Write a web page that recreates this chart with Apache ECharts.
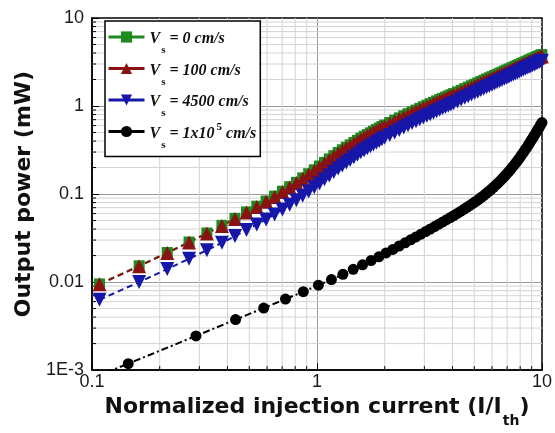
<!DOCTYPE html>
<html><head><meta charset="utf-8">
<script src="https://cdn.jsdelivr.net/npm/echarts@6/dist/echarts.min.js"></script>
<style>html,body{margin:0;padding:0;background:#fff}#c{width:555px;height:433px}</style>
</head><body><div id="c"></div>
<script>
// ---- data ----
const xMain = [0.108,0.162,0.216,0.27,0.324,0.378,0.432,0.486,0.54,0.594,0.648,0.702,0.756,0.81,0.864,0.918,0.972,1.026,1.08,1.134,1.188,1.242,1.296,1.35,1.404,1.458,1.512,1.566,1.62,1.674,1.728,1.782,1.836,1.89,1.944,1.998,
2.106,2.214,2.322,2.43,2.538,2.646,2.754,2.862,2.97,3.078,3.186,3.294,3.402,3.51,3.618,3.726,3.834,3.942,4.05,
4.212,4.374,4.536,4.698,4.86,5.022,5.184,5.346,5.508,5.67,5.832,5.994,6.156,6.318,6.48,6.642,6.804,6.966,7.128,7.29,7.452,7.614,7.776,7.938,8.1,8.262,8.424,8.586,8.748,8.91,9.072,9.234,9.396,9.558,9.72,9.882,9.99];

const vs0 = [0.00953,0.01532,0.02165,0.0285,0.0361,0.04413,0.05302,0.06266,0.07278,0.08332,0.09476,0.1077,0.1212,0.1359,0.1527,0.1702,0.1888,0.2083,0.229,0.2506,0.2731,0.2966,0.3185,0.34,0.3621,0.3847,0.4077,0.4311,0.453,0.4744,0.4959,0.5178,0.5398,0.5624,0.585,0.6079,
0.6491,0.6911,0.7335,0.7762,0.8187,0.859,0.8995,0.9402,0.9811,1.022,1.063,1.103,1.143,1.183,1.223,1.263,1.303,1.344,1.385,
1.448,1.511,1.574,1.637,1.702,1.766,1.83,1.895,1.96,2.026,2.091,2.157,2.223,2.289,2.356,2.423,2.49,2.557,2.624,2.691,2.759,2.827,2.895,2.963,3.031,3.1,3.168,3.237,3.306,3.376,3.445,3.515,3.584,3.655,3.725,3.794,3.841];

const vs100 = [0.00943,0.01517,0.02143,0.02822,0.03574,0.04347,0.05222,0.06172,0.07132,0.08165,0.09286,0.1055,0.1188,0.1332,0.1496,0.1668,0.1845,0.2031,0.2233,0.2443,0.2663,0.2892,0.3105,0.3305,0.352,0.3739,0.3963,0.419,0.4403,0.4602,0.481,0.5023,0.5236,0.5455,0.5675,0.5897,
0.6296,0.6704,0.71,0.7514,0.7925,0.8315,0.8707,0.9101,0.9477,0.9873,1.027,1.066,1.104,1.143,1.18,1.219,1.257,1.297,1.337,
1.39,1.451,1.511,1.572,1.634,1.695,1.757,1.819,1.882,1.945,2.007,2.071,2.134,2.197,2.262,2.326,2.39,2.455,2.519,2.583,2.649,2.714,2.779,2.844,2.91,2.976,3.041,3.108,3.174,3.241,3.307,3.374,3.441,3.509,3.576,3.642,3.687];

const vs4500 = [0.0063,0.01,0.01405,0.01841,0.02303,0.02793,0.0333,0.0391,0.0452,0.0515,0.0585,0.0667,0.0754,0.0848,0.0957,0.1069,0.1191,0.1321,0.1468,0.1621,0.1783,0.1955,0.2115,0.2278,0.2444,0.262,0.2793,0.2975,0.3148,0.3311,0.3481,0.365,0.3822,0.3999,0.4183,0.4353,
0.468,0.5017,0.5355,0.569,0.6067,0.64,0.6728,0.707,0.7388,0.7737,0.8068,0.8405,0.8733,0.9074,0.9405,0.9738,1.007,1.043,1.078,
1.129,1.183,1.239,1.292,1.348,1.402,1.457,1.516,1.572,1.629,1.687,1.745,1.803,1.861,1.92,1.98,2.037,2.097,2.157,2.217,2.279,2.341,2.403,2.465,2.528,2.592,2.655,2.713,2.774,2.839,2.904,2.97,3.028,3.096,3.163,3.229,3.269];

const xBlack = [0.1,0.1449,0.2898,0.4347,0.5796,0.7245,0.8694,1.0143,1.1592,1.3041,1.449,1.5939,1.7388,1.8837,2.0286,2.1735,2.3184,2.4633,2.6082,2.7531,2.898,3.0429,3.1878,3.3327,3.4776,3.6225,3.7674,3.9123,4.0572,4.2021,4.347,4.4919,4.6368,4.7817,4.9266,5.0715,5.2164,5.3613,5.5062,5.6511,5.796,5.9409,6.0858,6.2307,6.3756,6.5205,6.6654,6.8103,6.9552,7.1001,7.245,7.3899,7.5348,7.6797,7.8246,7.9695,8.1144,8.2593,8.4042,8.5491,8.694,8.8389,8.9838,9.1287,9.2736,9.4185,9.5634,9.7083,9.8532,9.9981];

const vs1e5 = [0.00081,0.001182,0.002446,0.003745,0.005066,0.006402,0.007787,0.009231,0.01069,0.01224,0.01396,0.01572,0.01753,0.01938,0.02141,0.02352,0.02569,0.02793,0.03022,0.03259,0.03503,0.03752,0.04009,0.04272,0.04543,0.04823,0.05108,0.05403,0.05706,0.06026,0.06355,0.06699,0.0706,0.07435,0.07823,0.08232,0.08667,0.09134,0.09623,0.1015,0.1071,0.1131,0.1194,0.1262,0.1333,0.1411,0.1494,0.1584,0.168,0.1785,0.1896,0.2017,0.2146,0.2284,0.2433,0.2594,0.2773,0.2959,0.3161,0.3375,0.3605,0.3851,0.4114,0.439,0.4691,0.5006,0.5342,0.57,0.6088,0.6494];

const xMinorTicks = [0.2,0.3,0.4,0.5,0.6,0.7,0.8,0.9,2,3,4,5,6,7,8,9];
const yMinorTicks = [0.002,0.003,0.004,0.005,0.006,0.007,0.008,0.009,0.02,0.03,0.04,0.05,0.06,0.07,0.08,0.09,0.2,0.3,0.4,0.5,0.6,0.7,0.8,0.9,2,3,4,5,6,7,8,9];

const seriesNames = ['Vs = 0 cm/s','Vs = 100 cm/s','Vs = 4500 cm/s','Vs = 1x10^5 cm/s'];
const legendText = {
  'Vs = 0 cm/s': '{m|V}{sub|s}{m| = 0 cm/s}',
  'Vs = 100 cm/s': '{m|V}{sub|s}{m| = 100 cm/s}',
  'Vs = 4500 cm/s': '{m|V}{sub|s}{m| = 4500 cm/s}',
  'Vs = 1x10^5 cm/s': '{m|V}{sub|s}{m| = 1x10}{sup|5}{m| cm/s}'
};
const X_MIN = 0.1, X_MAX = 10, Y_MIN = 0.001, Y_MAX = 10;

function pairs(xs, ys) { return xs.map((x, i) => [x, ys[i]]); }

const chart = echarts.init(document.getElementById('c'), null, {renderer: 'canvas'});

const serif = 'Liberation Serif';
const sans = 'Liberation Sans';
const titleFont = 'DejaVu Sans';

function minorRender(isX) {
  return function (params, api) {
    const v = api.value(isX ? 0 : 1);
    let a, b, t;
    if (isX) {
      a = api.coord([v, Y_MIN]); b = api.coord([v, Y_MAX]);
      t = {x1: a[0], y1: a[1], x2: a[0], y2: a[1] - 4};
    } else {
      a = api.coord([X_MIN, v]); b = api.coord([X_MAX, v]);
      t = {x1: a[0], y1: a[1], x2: a[0] + 4, y2: a[1]};
    }
    return {type: 'group', children: [
      {type: 'line', shape: {x1: a[0], y1: a[1], x2: b[0], y2: b[1]}, style: {stroke: '#d3d3d3', lineWidth: 1}},
      {type: 'line', shape: t, style: {stroke: '#000', lineWidth: 1}}
    ]};
  };
}

const option = {
  animation: false,
  backgroundColor: '#fff',
  grid: {left: 92, right: 12, top: 18, bottom: 57, show: true, borderColor: '#000', borderWidth: 1.5, backgroundColor: 'transparent'},
  legend: {
    data: seriesNames,
    orient: 'vertical',
    left: 105, top: 21,
    backgroundColor: '#fff',
    borderColor: '#000', borderWidth: 1.5, borderRadius: 0,
    padding: [6, 4, 6, 2],
    itemGap: 2.5,
    itemWidth: 36, itemHeight: 14,
    lineStyle: {type: 'solid', width: 3},
    formatter: n => legendText[n],
    textStyle: {
      rich: {
        m: {fontFamily: serif, fontWeight: 'bold', fontStyle: 'italic', fontSize: 16, lineHeight: 20, padding: [4, 0, 0, 0], verticalAlign: 'top', color: '#111'},
        sub: {fontFamily: serif, fontWeight: 'bold', fontStyle: 'normal', fontSize: 11, lineHeight: 11, padding: [18, 0, 0, 1], verticalAlign: 'top', color: '#111'},
        sup: {fontFamily: serif, fontWeight: 'bold', fontStyle: 'normal', fontSize: 11, lineHeight: 11, padding: [0, 0, 0, 2], verticalAlign: 'top', color: '#111'}
      }
    }
  },
  xAxis: {
    type: 'log', logBase: 10, min: X_MIN, max: X_MAX, interval: 1,
    name: '{n|Normalized injection current (I/I}{s|th}{n|)}',
    nameLocation: 'middle', nameGap: 6,
    nameTextStyle: {
      rich: {
        n: {fontFamily: titleFont, fontWeight: 'bold', fontSize: 22, lineHeight: 24, verticalAlign: 'top', color: '#111'},
        s: {fontFamily: titleFont, fontWeight: 'bold', fontSize: 14, lineHeight: 14, padding: [18, 0, 0, 1], verticalAlign: 'top', color: '#111'}
      }
    },
    axisLine: {show: true, lineStyle: {color: '#000', width: 1.5}},
    axisTick: {show: true, inside: true, length: 7, lineStyle: {color: '#000', width: 1}},
    axisLabel: {show: true, margin: 3, fontFamily: sans, fontSize: 18, color: '#1a1a1a', showMinLabel: true, showMaxLabel: true,
      formatter: v => String(+(+v).toPrecision(2))},
    splitLine: {show: true, showMinLine: false, showMaxLine: false, lineStyle: {color: '#9a9a9a', width: 1}},
    minorTick: {show: false}, minorSplitLine: {show: false}
  },
  yAxis: {
    type: 'log', logBase: 10, min: Y_MIN, max: Y_MAX, interval: 1,
    name: 'Output power (mW)',
    nameLocation: 'middle', nameGap: 56,
    nameTextStyle: {fontFamily: titleFont, fontWeight: 'bold', fontSize: 22, color: '#111'},
    axisLine: {show: true, lineStyle: {color: '#000', width: 1.5}},
    axisTick: {show: true, inside: true, length: 7, lineStyle: {color: '#000', width: 1}},
    axisLabel: {show: true, margin: 8, fontFamily: sans, fontSize: 18, color: '#1a1a1a', showMinLabel: true, showMaxLabel: true,
      formatter: v => (v < 0.0015 ? '1E-3' : String(+(+v).toPrecision(2)))},
    splitLine: {show: true, showMinLine: false, showMaxLine: false, lineStyle: {color: '#9a9a9a', width: 1}},
    minorTick: {show: false}, minorSplitLine: {show: false}
  },
  series: [
    {type: 'custom', coordinateSystem: 'cartesian2d', silent: true, z: 1, clip: false,
      data: xMinorTicks.map(v => [v, Y_MIN]), renderItem: minorRender(true)},
    {type: 'custom', coordinateSystem: 'cartesian2d', silent: true, z: 1, clip: false,
      data: yMinorTicks.map(v => [X_MIN, v]), renderItem: minorRender(false)},
    {name: seriesNames[0], type: 'line', data: pairs(xMain, vs0), symbol: 'rect', symbolSize: 11, showAllSymbol: true, clip: true,
      itemStyle: {color: '#1f8a1f'}, lineStyle: {color: '#1f8a1f', width: 2, type: [6, 4]}, z: 3},
    {name: seriesNames[1], type: 'line', data: pairs(xMain, vs100), symbol: 'triangle', symbolSize: 14, showAllSymbol: true, clip: true,
      itemStyle: {color: '#8b1212'}, lineStyle: {color: '#8b1212', width: 2, type: [6, 4]}, z: 3},
    {name: seriesNames[2], type: 'line', data: pairs(xMain, vs4500), symbol: 'triangle', symbolRotate: 180, symbolSize: 14, showAllSymbol: true, clip: true,
      itemStyle: {color: '#1616a8'}, lineStyle: {color: '#1616a8', width: 2, type: [6, 4]}, z: 3},
    {name: seriesNames[3], type: 'line', data: pairs(xBlack, vs1e5), symbol: 'circle', symbolSize: 11, showAllSymbol: true, clip: true,
      itemStyle: {color: '#000'}, lineStyle: {color: '#000', width: 2, type: [7, 3, 2, 3]}, z: 3}
  ]
};
chart.setOption(option);
</script>
</body></html>
